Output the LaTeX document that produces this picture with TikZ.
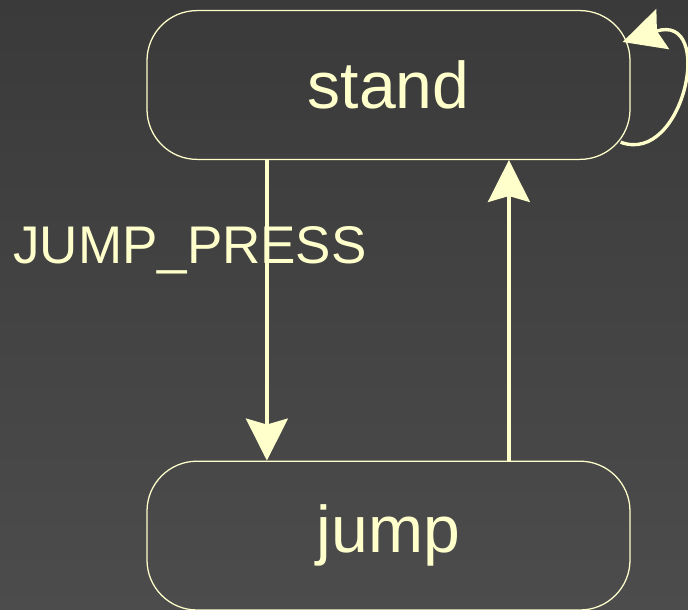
\documentclass[tikz,border=0pt]{standalone}
\usepackage{fontspec}
\setmainfont{Liberation Sans}
\usetikzlibrary{arrows.meta}
\definecolor{chalk}{HTML}{FFFFCC}

\begin{document}
\begin{tikzpicture}[
    state/.style={draw=chalk, line width=0.9pt, rounded corners=1.25cm, text=chalk,
        minimum width=12.075cm, minimum height=3.72cm, font=\fontsize{47}{56}\selectfont},
    trans/.style={draw=chalk, line width=2.4pt, -{Stealth[length=1.05cm, width=1.05cm, inset=0.15cm]}},
    lbl/.style={text=chalk, inner sep=0pt, font=\fontsize{37.7}{45}\selectfont}
]
    \useasboundingbox (0,0) rectangle (17.2,15.25);
    \shade[top color={rgb,255:red,58;green,58;blue,58}, bottom color={rgb,255:red,76;green,76;blue,76}] (0,0) rectangle (17.2,15.25);
    \node[state] (stand) at (9.7125,13.125) {stand};
    \node[state] (jump) at (9.7125,1.86) {jump};
    \node[lbl] (press) at (4.75,9.0) {JUMP\_PRESS};
    \draw[trans] ([xshift=-3.04cm]stand.south) -- ([xshift=-3.04cm]jump.north);
    \draw[trans] ([xshift=3.01cm]jump.north) -- ([xshift=3.01cm]stand.south);
    \draw[trans] ([xshift=-0.25cm, yshift=-1.43cm]stand.east) .. controls (17.1,11.1) and (17.9,14.95) .. ([xshift=-0.2cm, yshift=1.075cm]stand.east);
\end{tikzpicture}
\end{document}
